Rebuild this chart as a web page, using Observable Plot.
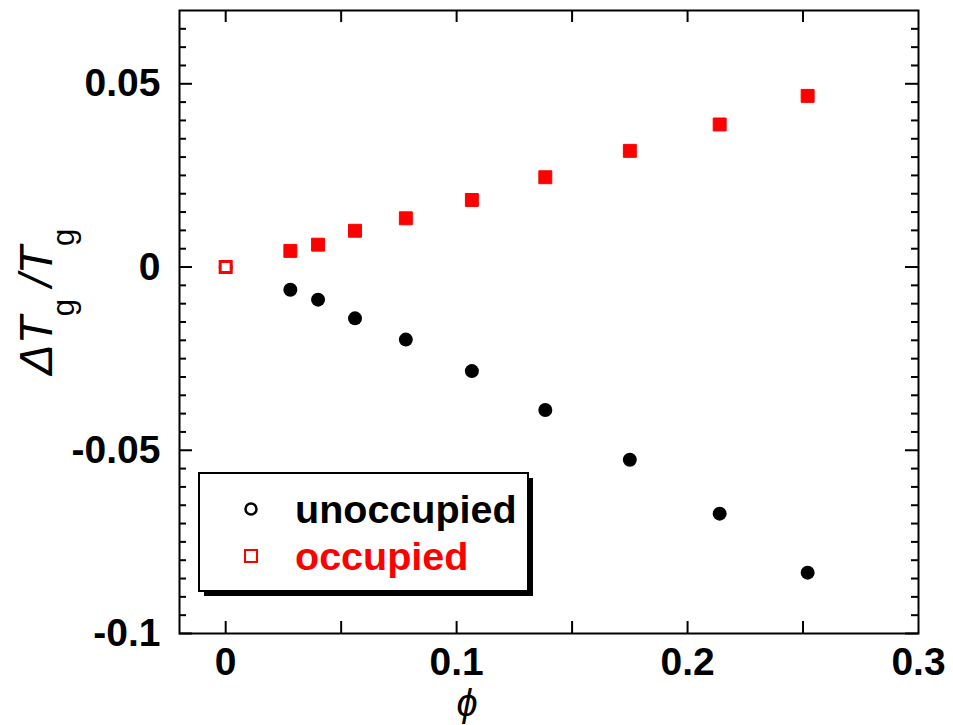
<!DOCTYPE html>
<html><head><meta charset="utf-8">
<script src="https://cdn.jsdelivr.net/npm/d3@7"></script>
<script src="https://cdn.jsdelivr.net/npm/@observablehq/plot@0.6"></script>
<style>body{margin:0;background:#fff}</style>
</head><body><div id="chart"></div>
<script>
// ---- data ----
const phi = [0, 0.028, 0.040, 0.056, 0.078, 0.1066, 0.1384, 0.175, 0.2139, 0.252];
const unoccupied = [0, -0.0062, -0.0089, -0.0140, -0.0198, -0.0284, -0.0390, -0.0526, -0.0673, -0.0834];
const occupied = [0, 0.0044, 0.0061, 0.0099, 0.0133, 0.0183, 0.0245, 0.0317, 0.0389, 0.0467];
const seriesNames = ["unoccupied", "occupied"];
const seriesColors = ["#000000", "#ff0000"];
const xTickLabels = [0, 0.1, 0.2, 0.3];
const yTickLabels = [-0.1, -0.05, 0, 0.05];
const xTicks = [0, 0.05, 0.1, 0.15, 0.2, 0.25];
const yMajor = [-0.1, -0.05, 0, 0.05];
const yMinor = d3.range(-19, 14).filter(i => i % 10 !== 0).map(i => i * 0.005);

// ---- layout ----
const W = 953, H = 725, mL = 179, mR = 35, mT = 10, mB = 92;
const innerW = W - mL - mR, innerH = H - mT - mB;
const font = "'Liberation Sans', Arial, Helvetica, sans-serif";

const unocc = phi.map((x, i) => ({x, y: unoccupied[i], i}));
const occ = phi.map((x, i) => ({x, y: occupied[i], i}));

const tickStyle = {stroke: "black", strokeWidth: 2};
const plot = Plot.plot({
  width: W, height: H,
  marginLeft: mL, marginRight: mR, marginTop: mT, marginBottom: mB,
  style: {fontFamily: font, background: "white", overflow: "visible"},
  x: {domain: [-0.02, 0.3]},
  y: {domain: [-0.1, 0.07]},
  marks: [
    Plot.tickX(xTicks, {x: d => d, insetTop: innerH - 12, ...tickStyle}),
    Plot.tickX(xTicks, {x: d => d, insetBottom: innerH - 12, ...tickStyle}),
    Plot.tickY(yMajor, {y: d => d, insetRight: innerW - 13, ...tickStyle}),
    Plot.tickY(yMajor, {y: d => d, insetLeft: innerW - 13, ...tickStyle}),
    Plot.tickY(yMinor, {y: d => d, insetRight: innerW - 7, ...tickStyle}),
    Plot.tickY(yMinor, {y: d => d, insetLeft: innerW - 7, ...tickStyle}),
    Plot.frame({stroke: "black", strokeWidth: 2}),
    Plot.axisX(xTickLabels, {tickSize: 0, tickPadding: 14, tickFormat: d => String(d),
      fontSize: 39, fontWeight: "bold", label: null}),
    Plot.axisY(yTickLabels, {tickSize: 0, tickPadding: 19, tickFormat: d => String(d),
      fontSize: 39, fontWeight: "bold", label: null}),
    Plot.dot(unocc, {x: "x", y: "y", r: 7, fill: seriesColors[0], symbol: "circle"}),
    Plot.dot(occ.filter(d => d.i > 0), {x: "x", y: "y", r: 7.3, symbol: "square",
      fill: seriesColors[1], stroke: seriesColors[1], strokeWidth: 1}),
    Plot.dot(occ.filter(d => d.i === 0), {x: "x", y: "y", r: 6.2, symbol: "square",
      fill: "white", stroke: seriesColors[1], strokeWidth: 3})
  ]
});
document.getElementById("chart").appendChild(plot);

const svg = d3.select(plot);

// x axis label
svg.append("text")
  .attr("x", 467).attr("y", 716)
  .attr("text-anchor", "middle")
  .attr("font-family", font).attr("font-size", 38).attr("font-style", "italic")
  .text("ϕ");

// y axis label  ΔT_g / T_g
const yl = svg.append("text")
  .attr("transform", "translate(52,302) rotate(-90)")
  .attr("text-anchor", "middle")
  .attr("font-family", font).attr("font-size", 46).attr("font-style", "italic");
yl.append("tspan").text("ΔT");
yl.append("tspan").attr("dy", 22).attr("font-size", 31).attr("font-style", "normal").text("g");
yl.append("tspan").attr("dy", -22).attr("dx", 12).text("/T");
yl.append("tspan").attr("dy", 22).attr("font-size", 31).attr("font-style", "normal").text("g");

// legend
const lg = svg.append("g");
lg.append("rect").attr("x", 204).attr("y", 478).attr("width", 329).attr("height", 118).attr("fill", "black");
lg.append("rect").attr("x", 199).attr("y", 473).attr("width", 329).attr("height", 118)
  .attr("fill", "white").attr("stroke", "black").attr("stroke-width", 2);
lg.append("circle").attr("cx", 251).attr("cy", 509).attr("r", 5.5)
  .attr("fill", "none").attr("stroke", seriesColors[0]).attr("stroke-width", 2.5);
lg.append("rect").attr("x", 245).attr("y", 550).attr("width", 12).attr("height", 12)
  .attr("fill", "none").attr("stroke", seriesColors[1]).attr("stroke-width", 2);
seriesNames.forEach((name, i) => {
  lg.append("text").attr("x", 295).attr("y", 523 + i * 47)
    .attr("text-anchor", "start")
    .attr("font-family", font).attr("font-size", 39.5).attr("font-weight", "bold")
    .attr("fill", seriesColors[i]).text(name);
});
</script>
</body></html>
